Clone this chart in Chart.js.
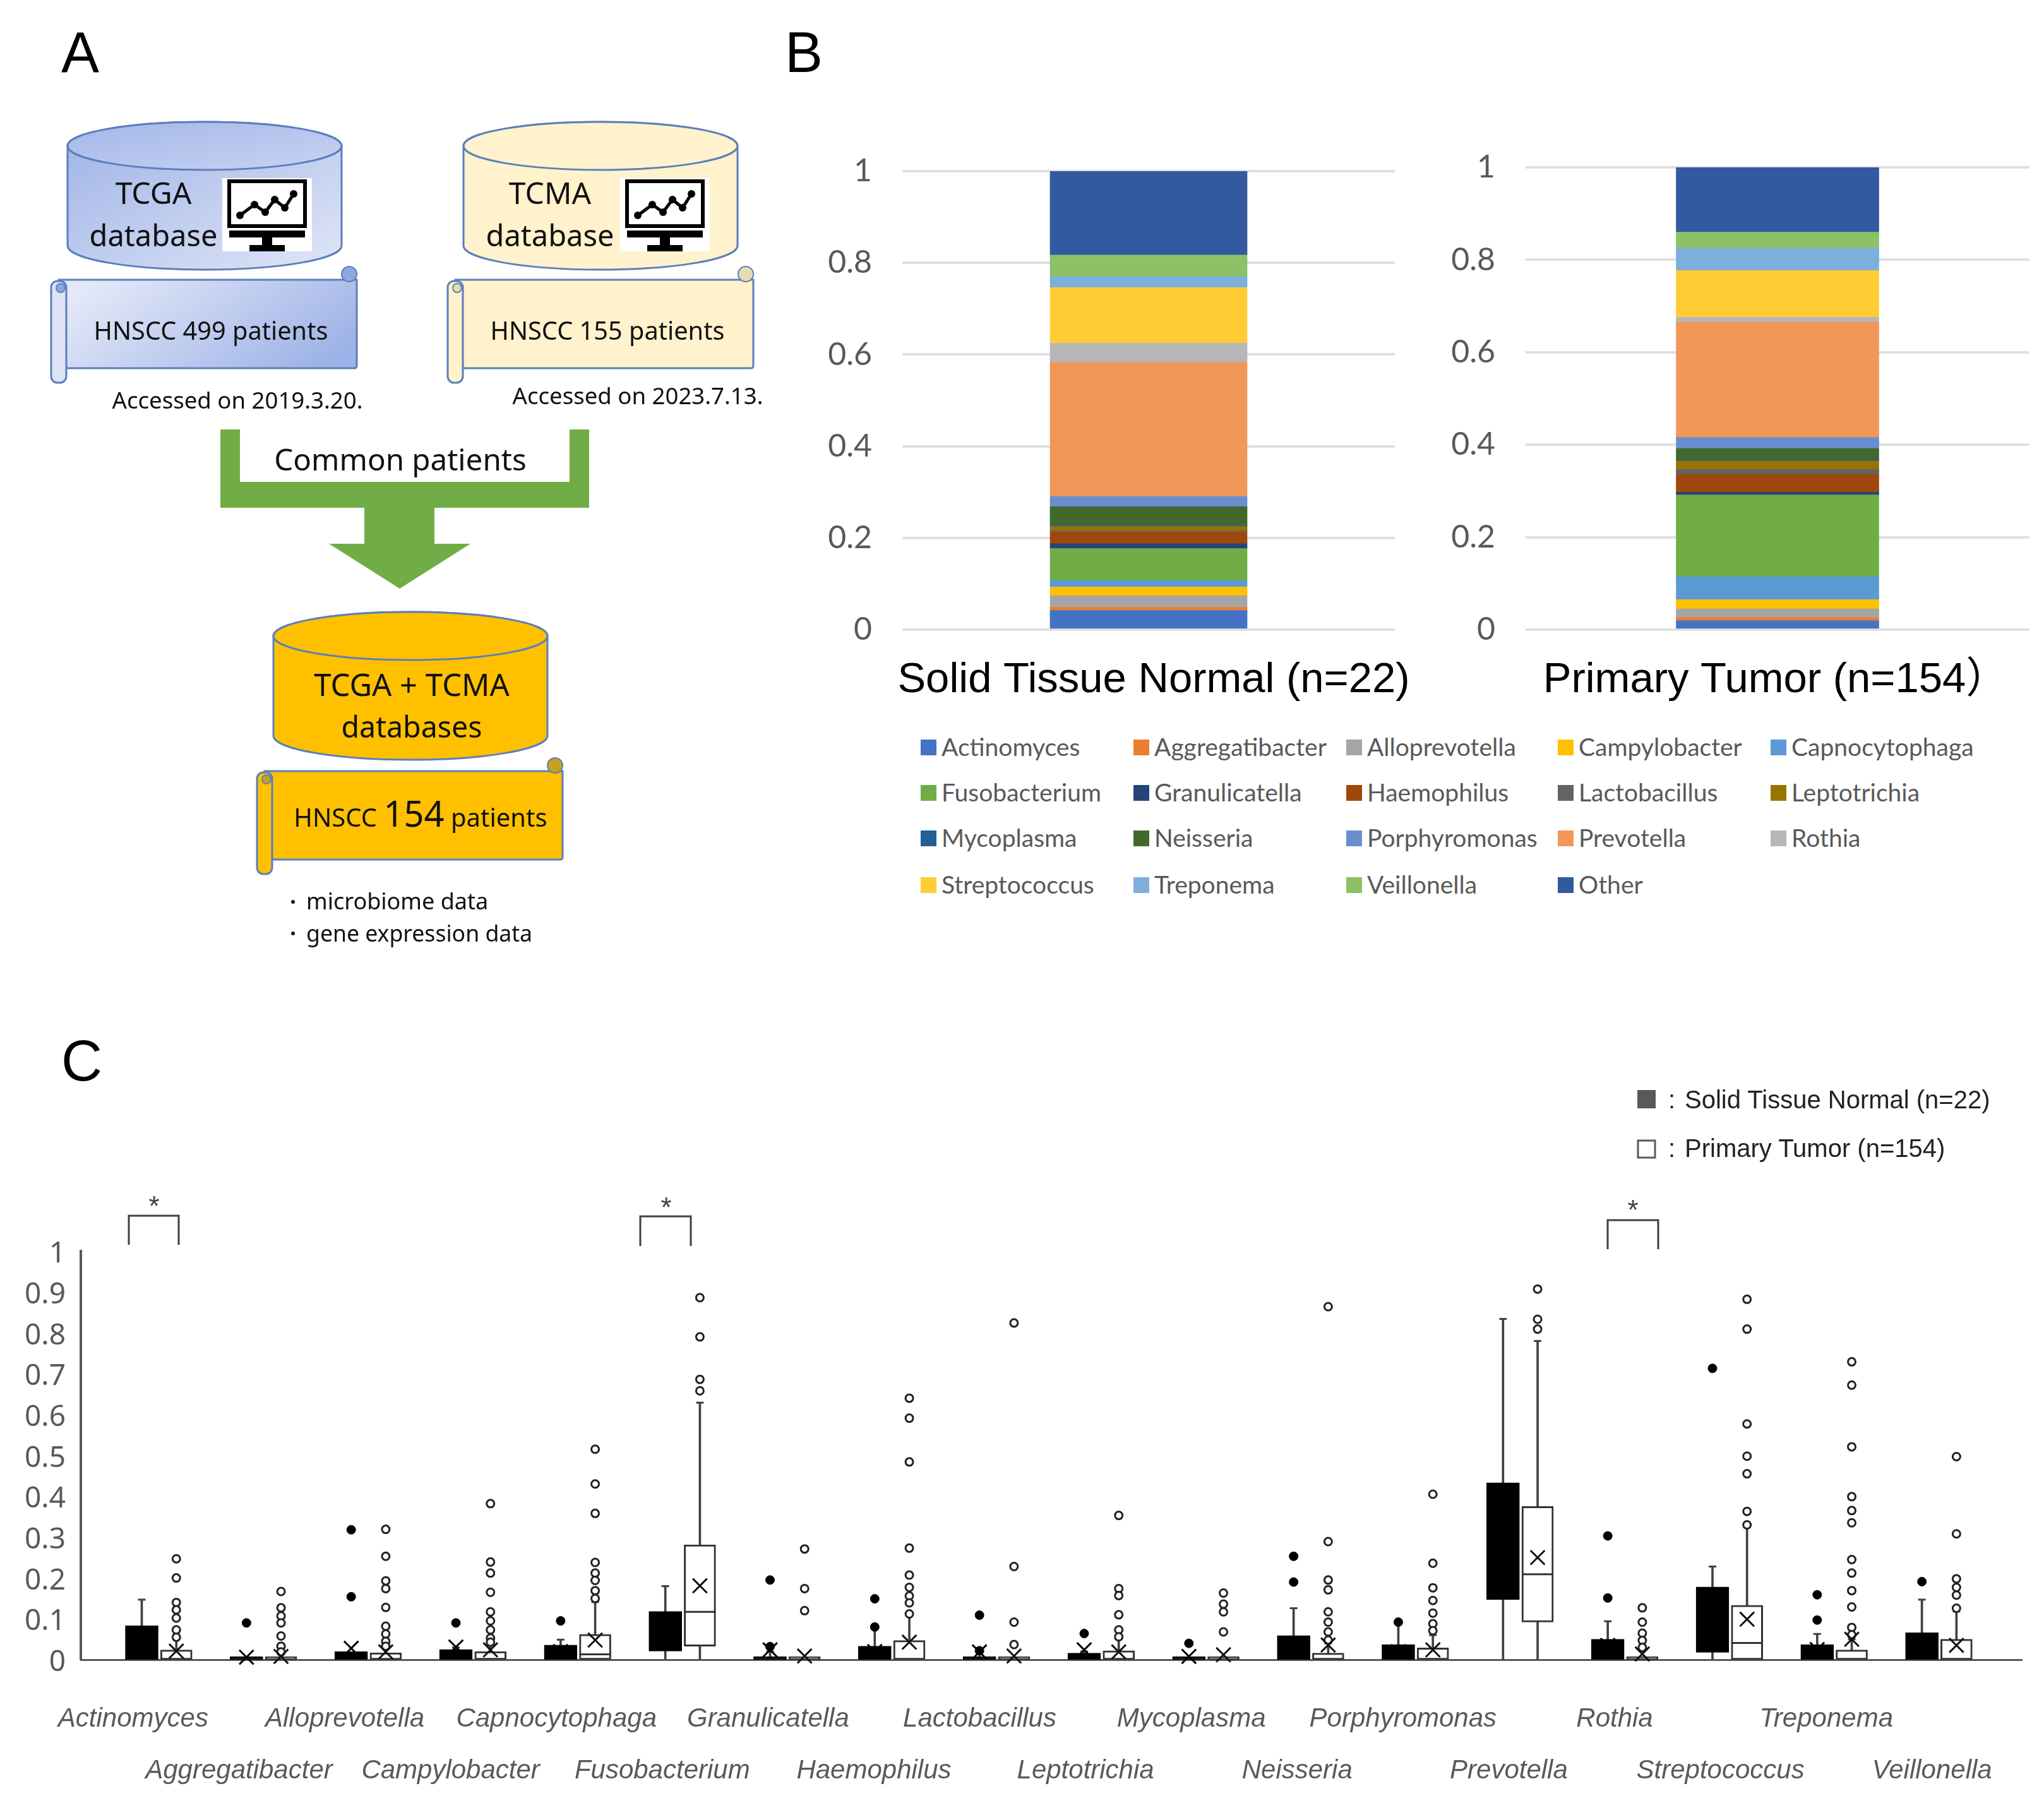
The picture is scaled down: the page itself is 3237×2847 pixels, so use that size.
<!DOCTYPE html>
<html>
<head>
<meta charset="utf-8">
<title>HNSCC microbiome</title>
<script src="https://cdn.jsdelivr.net/npm/chart.js@4"></script>
<style>
    html, body { margin: 0; padding: 0; background: #fff; }
    #page { position: relative; width: 3237px; height: 2847px; overflow: hidden; background: #fff; }
    #page canvas { position: absolute; display: block; }
    #diagram { position: absolute; left: 0; top: 0; }
    #genusLegend { position: absolute; left: 0; top: 0; font: 39px Lato, sans-serif; color: #595959; }
    #genusLegend div { position: absolute; white-space: nowrap; line-height: 44px; }
    #genusLegend span { position: absolute; left: -33px; top: 11px; width: 25px; height: 25px; }
</style>
</head>
<body>
<div id="page">
    <canvas id="normalChart" style="left:1240px;top:200px" width="1000" height="930"></canvas>
    <canvas id="tumorChart" style="left:2240px;top:200px" width="997" height="930"></canvas>
    <canvas id="boxChart" style="left:0;top:1900px" width="3237" height="947"></canvas>
    <div id="genusLegend"></div>
    <svg id="diagram" width="3237" height="2847" xmlns="http://www.w3.org/2000/svg"></svg>
</div>
<script>
// Panel B, mean relative abundance per genus, bottom to top
const stackGenera = ["Actinomyces", "Aggregatibacter", "Alloprevotella", "Campylobacter", "Capnocytophaga",
    "Fusobacterium", "Granulicatella", "Haemophilus", "Lactobacillus", "Leptotrichia",
    "Mycoplasma", "Neisseria", "Porphyromonas", "Prevotella", "Rothia",
    "Streptococcus", "Treponema", "Veillonella", "Other"];
const stackColors = ["#4472C4", "#ED7D31", "#A5A5A5", "#FFC000", "#5B9BD5",
    "#70AD47", "#264478", "#9E480E", "#636363", "#997300",
    "#255E91", "#43682B", "#698ED0", "#F1975A", "#B7B7B7",
    "#FFCD33", "#7CAFDD", "#8CC168", "#325AA0"];
const normalShares = [0.042, 0.007, 0.025, 0.019, 0.014, 0.07, 0.0105, 0.025, 0.003, 0.0095,
    0.003, 0.04, 0.0225, 0.2925, 0.042, 0.121, 0.024, 0.047, 0.183];
const tumorShares = [0.0195, 0.0065, 0.019, 0.02, 0.0496, 0.1768, 0.006, 0.039, 0.0105, 0.018,
    0.003, 0.024, 0.024, 0.2495, 0.0105, 0.101, 0.048, 0.035, 0.14];

// Panel C, box plots per genus
const boxGenera = stackGenera.slice(0, 18);
const normalQ1 = [0, 0, 0, 0, 0, 0.021, 0, 0, 0, 0, 0, 0, 0, 0.147, 0, 0.018, 0, 0];
const normalQ3 = [0.083, 0.002, 0.02, 0.025, 0.036, 0.118, 0.005, 0.033, 0.002, 0.016, 0.001, 0.059, 0.037, 0.433, 0.05, 0.178, 0.037, 0.066];
const normalWhisker = [0.147, null, null, 0.03, 0.049, 0.18, 0.02, 0.078, 0.018, 0.02, null, 0.126, 0.088, 0.834, 0.094, 0.228, 0.063, 0.147];
const normalMean = [0.045, 0.006, 0.028, 0.031, 0.02, 0.07, 0.024, 0.02, 0.019, 0.024, 0.008, 0.04, 0.02, 0.3, 0.035, 0.1, 0.025, 0.035];
const normalOutliers = [[], [0.09], [0.318, 0.154], [0.09], [0.095], [], [0.195, 0.032], [0.149, 0.08], [0.109, 0.022],
    [0.064], [0.04], [0.253, 0.19], [0.092], [], [0.303, 0.151], [0.713], [0.159, 0.097], [0.191]];

const tumorQ1 = [0, 0, 0, 0, 0, 0.033, 0, 0, 0, 0, 0, 0, 0, 0.092, 0, 0, 0, 0];
const tumorQ3 = [0.024, 0.002, 0.017, 0.02, 0.062, 0.281, 0.002, 0.047, 0.002, 0.022, 0.002, 0.016, 0.029, 0.375, 0.002, 0.133, 0.024, 0.05];
const tumorMedian = [null, null, null, null, 0.013, 0.117, null, null, null, null, null, null, null, 0.209, null, 0.041, null, null];
const tumorWhisker = [0.05, null, null, 0.04, 0.141, 0.629, null, 0.112, null, 0.05, null, 0.04, 0.06, 0.78, null, 0.324, 0.05, 0.118];
const tumorMean = [0.021, 0.008, 0.019, 0.024, 0.048, 0.181, 0.009, 0.043, 0.009, 0.019, 0.012, 0.036, 0.024, 0.25, 0.014, 0.099, 0.05, 0.035];
const tumorOutliers = [
    [0.247, 0.2, 0.14, 0.122, 0.102, 0.073, 0.055],
    [0.167, 0.127, 0.107, 0.09, 0.058, 0.033, 0.019],
    [0.319, 0.253, 0.193, 0.174, 0.128, 0.082, 0.063, 0.045, 0.033],
    [0.382, 0.239, 0.212, 0.165, 0.117, 0.095, 0.073, 0.053, 0.043],
    [0.515, 0.43, 0.358, 0.238, 0.212, 0.194, 0.169, 0.15],
    [0.886, 0.79, 0.686, 0.658],
    [0.271, 0.174, 0.12],
    [0.64, 0.591, 0.484, 0.273, 0.207, 0.177, 0.156, 0.139, 0.112],
    [0.824, 0.228, 0.092, 0.037],
    [0.353, 0.174, 0.157, 0.11, 0.073, 0.056],
    [0.163, 0.136, 0.117, 0.068],
    [0.864, 0.289, 0.195, 0.171, 0.117, 0.092, 0.068, 0.048],
    [0.405, 0.236, 0.176, 0.145, 0.114, 0.088, 0.071],
    [0.907, 0.833, 0.809],
    [0.127, 0.092, 0.065, 0.047, 0.03],
    [0.882, 0.809, 0.577, 0.498, 0.455, 0.363, 0.33],
    [0.729, 0.672, 0.521, 0.399, 0.365, 0.335, 0.245, 0.212, 0.169, 0.129, 0.079, 0.061],
    [0.497, 0.308, 0.198, 0.177, 0.158, 0.126]
];

const GREY_TEXT = "#595959";
const BOX_SHIFT = 0.165;

// keep the plot area where the layout padding puts it, long tick labels must not shrink it
function noAutoPadding(scale) {
    scale.paddingLeft = scale.paddingRight = scale.paddingTop = scale.paddingBottom = 0;
}

function buildStackChart(id, title, shares, axisWidth, padding, barWidth, labelShift) {
    new Chart(document.getElementById(id), {
        type: "bar",
        data: {
            labels: [title],
            datasets: stackGenera.map((g, i) => ({
                label: g,
                data: [shares[i]],
                backgroundColor: stackColors[i],
                barThickness: barWidth
            }))
        },
        options: {
            responsive: false,
            animation: false,
            layout: { padding },
            plugins: { legend: { display: false }, tooltip: { enabled: false } },
            scales: {
                x: {
                    stacked: true,
                    grid: { display: false },
                    border: { display: false },
                    afterFit: s => { s.height = 133; noAutoPadding(s); },
                    ticks: {
                        color: "#000",
                        font: { family: "'Liberation Sans', 'Noto Sans CJK JP'", size: 67 },
                        padding: 32,
                        maxRotation: 0,
                        autoSkip: false,
                        labelOffset: labelShift
                    }
                },
                y: {
                    stacked: true,
                    min: 0,
                    max: 1,
                    afterFit: s => { s.width = axisWidth; noAutoPadding(s); },
                    border: { display: false },
                    grid: { color: "#E0E0E0", lineWidth: 4, drawTicks: false },
                    ticks: {
                        stepSize: 0.2,
                        color: GREY_TEXT,
                        font: { family: "Lato", size: 50 },
                        padding: 48,
                        callback: v => +v.toFixed(1)
                    }
                }
            }
        }
    });
}

buildStackChart("normalChart", "Solid Tissue Normal (n=22)", normalShares, 189,
    { top: 71, right: 31 }, 312, 8);
buildStackChart("tumorChart", "Primary Tumor (n=154）", tumorShares, 176,
    { top: 65, right: 23 }, 321, -3);

function pts(values, shift) {
    return values.map((v, i) => ({ x: i + shift, y: v })).filter(p => p.y !== null);
}
function spread(groups, shift) {
    return groups.flatMap((g, i) => g.map(v => ({ x: i + shift, y: v })));
}
function ranges(lo, hi, shift) {
    return hi.map((v, i) => ({ x: i + shift, y: [lo[i], v] }));
}
function whiskers(hi, shift) {
    return hi.map((v, i) => ({ x: i + shift, y: [0, v] })).filter(p => p.y[1] !== null);
}

function boxDatasets(shift, q1, q3, whisk, mean, outliers, solid) {
    return [
        { type: "bar", order: 4, grouped: false, barThickness: 3, backgroundColor: "#404040", data: whiskers(whisk, shift) },
        { type: "scatter", order: 4, clip: false, pointStyle: "line", pointRadius: 6, borderWidth: 3, borderColor: "#404040", data: pts(whisk, shift) },
        { type: "bar", order: 3, grouped: false, barThickness: solid ? 52 : 50, minBarLength: 5, backgroundColor: solid ? "#000" : "#fff", borderColor: solid ? "#000" : "#333", borderWidth: 3, borderSkipped: false, data: ranges(q1, q3, shift) },
        { type: "scatter", order: 1, clip: false, pointStyle: "crossRot", pointRadius: 16, borderWidth: 3, borderColor: solid ? "#000" : "#111", data: pts(mean, shift) },
        { type: "scatter", order: 2, clip: false, pointRadius: solid ? 7 : 6, borderWidth: solid ? 1 : 3, backgroundColor: solid ? "#000" : "#fff", borderColor: solid ? "#000" : "#222", data: spread(outliers, shift) }
    ];
}

new Chart(document.getElementById("boxChart"), {
    type: "bar",
    data: {
        datasets: [
            ...boxDatasets(-BOX_SHIFT, normalQ1, normalQ3, normalWhisker, normalMean, normalOutliers, true),
            ...boxDatasets(BOX_SHIFT, tumorQ1, tumorQ3, tumorWhisker, tumorMean, tumorOutliers, false),
            { type: "scatter", order: 2, clip: false, pointStyle: "line", pointRadius: 25, borderWidth: 3, borderColor: "#333", data: pts(tumorMedian, BOX_SHIFT) }
        ]
    },
    options: {
        responsive: false,
        animation: false,
        layout: { padding: { top: 81, right: 35 } },
        plugins: { legend: { display: false }, tooltip: { enabled: false } },
        scales: {
            x: {
                type: "linear",
                offset: false,
                min: -0.747,
                max: 17.79,
                grid: { display: false, offset: false },
                border: { color: GREY_TEXT, width: 3 },
                afterFit: s => { s.height = 219; noAutoPadding(s); },
                // names sit in two rows and drift a little from their boxes, as in the figure
                afterBuildTicks: s => { s.ticks = boxGenera.map((g, i) => ({ value: i * 1.01055 - 0.2472 })); },
                ticks: {
                    color: GREY_TEXT,
                    font: { family: "'Liberation Sans'", size: 42, style: "italic", lineHeight: 1.95 },
                    padding: 45,
                    maxRotation: 0,
                    autoSkip: false,
                    callback: (v, i) => (i % 2 === 0 ? [boxGenera[i], " "] : [" ", boxGenera[i]])
                }
            },
            y: {
                min: 0,
                max: 1,
                afterFit: s => { s.width = 128; noAutoPadding(s); },
                grid: { display: false },
                border: { color: GREY_TEXT, width: 4 },
                ticks: {
                    stepSize: 0.1,
                    color: GREY_TEXT,
                    font: { family: "'Noto Sans'", size: 46 },
                    padding: 16,
                    labelOffset: 5,
                    callback: v => +v.toFixed(1)
                }
            }
        }
    }
});

// Genus legend of panel B, five columns and four rows
const legendEl = document.getElementById("genusLegend");
const legendColumns = [1491, 1828, 2165, 2500, 2837];
const legendRows = [1160, 1232, 1304, 1378];
stackGenera.forEach((g, i) => {
    const item = document.createElement("div");
    item.style.left = legendColumns[i % 5] + "px";
    item.style.top = legendRows[Math.floor(i / 5)] + "px";
    item.innerHTML = `<span style="background:${stackColors[i]}"></span>${g}`;
    legendEl.appendChild(item);
});

// Panel A flow diagram, panel letters and the annotations of panel C
function cylinder(x, y, body, top) {
    return `<path d="M${x},${y + 38} L${x},${y + 196} A217,38 0 0 0 ${x + 434},${y + 196} L${x + 434},${y + 38} A217,38 0 0 0 ${x},${y + 38} Z" fill="${body}" stroke="#5B7FBD" stroke-width="3"/>
        <ellipse cx="${x + 217}" cy="${y + 38}" rx="217" ry="38" fill="${top}" stroke="#5B7FBD" stroke-width="3"/>`;
}
function scroll(x, y, fill, roll, curl) {
    return `<path d="M${x + 12},${y} H${x + 484} V${y + 136} Q${x + 484},${y + 140} ${x + 480},${y + 140} H${x + 24} Z" fill="${fill}" stroke="#5B7FBD" stroke-width="3"/>
        <rect x="${x}" y="${y + 2}" width="24" height="161" rx="10" fill="${roll}" stroke="#5B7FBD" stroke-width="3"/>
        <circle cx="${x + 15}" cy="${y + 13}" r="7" fill="${curl}" stroke="#5B7FBD" stroke-width="2"/>
        <circle cx="${x + 472}" cy="${y - 9}" r="12" fill="${curl}" stroke="#5B7FBD" stroke-width="2"/>`;
}
function monitor(x, y) {
    const line = [[28, 59], [51, 42], [68, 54], [83, 34], [99, 47], [113, 25]];
    return `<g transform="translate(${x},${y})">
        <rect width="142" height="116" fill="#fff"/>
        <rect x="11" y="5" width="120" height="71" fill="#fff" stroke="#000" stroke-width="6"/>
        <polyline points="${line.map(p => p.join(",")).join(" ")}" fill="none" stroke="#000" stroke-width="5"/>
        ${line.map(p => `<circle cx="${p[0]}" cy="${p[1]}" r="6" fill="#000"/>`).join("")}
        <rect x="11" y="83" width="120" height="11" fill="#000"/>
        <rect x="63" y="94" width="16" height="12" fill="#000"/>
        <rect x="43" y="106" width="56" height="10" fill="#000"/>
    </g>`;
}
function label(x, y, size, text, anchor, color) {
    return `<text x="${x}" y="${y}" font-size="${size}" text-anchor="${anchor || "middle"}" fill="${color || "#111"}">${text}</text>`;
}
function bracket(x0, x1, yTop, yBottom, starX, starY) {
    return `<path d="M${x0},${yBottom} V${yTop} H${x1} V${yBottom}" fill="none" stroke="#404040" stroke-width="3"/>
        <text x="${starX}" y="${starY}" font-size="44" text-anchor="middle" fill="#404040" font-family="'Liberation Sans'">*</text>`;
}

document.getElementById("diagram").innerHTML = `
    <defs>
        <linearGradient id="blueBody" x1="0" y1="0" x2="1" y2="1"><stop offset="0" stop-color="#9DB2E6"/><stop offset="1" stop-color="#E0E6F7"/></linearGradient>
        <linearGradient id="blueTop" x1="0" y1="0" x2="1" y2="1"><stop offset="0" stop-color="#A3B7E8"/><stop offset="1" stop-color="#C8D3F1"/></linearGradient>
        <linearGradient id="blueScroll" x1="0" y1="0.3" x2="1" y2="0.7"><stop offset="0" stop-color="#E4E9F8"/><stop offset="1" stop-color="#9DB2E6"/></linearGradient>
    </defs>
    <g font-family="'Liberation Sans'" fill="#000" font-size="90">
        <text x="97" y="114">A</text>
        <text x="1243" y="114">B</text>
        <text x="97" y="1711">C</text>
    </g>
    <g font-family="'Noto Sans'">
        ${cylinder(107, 193, "url(#blueBody)", "url(#blueTop)")}
        ${monitor(352, 282)}
        ${label(243, 323, 48, "TCGA")}
        ${label(243, 390, 47, "database")}
        ${scroll(81, 443, "url(#blueScroll)", "#DDE3F6", "#8FA6DE")}
        ${label(334, 538, 39.7, "HNSCC 499 patients")}
        ${label(376, 647, 36.6, "Accessed on 2019.3.20.")}

        ${cylinder(734, 193, "#FFF2CC", "#FFF2CC")}
        ${monitor(982, 282)}
        ${label(871, 323, 48, "TCMA")}
        ${label(871, 390, 47, "database")}
        ${scroll(709, 443, "#FFF2CC", "#FFF2CC", "#E8DDB0")}
        ${label(962, 538, 39.7, "HNSCC 155 patients")}
        ${label(1010, 640, 36.6, "Accessed on 2023.7.13.")}

        <path d="M349,680 H380 V763 H902 V680 H933 V804 H688 V861 H745 L633,932 L521,861 H577 V804 H349 Z" fill="#70AD47"/>
        ${label(634, 745, 47.5, "Common patients")}

        ${cylinder(433, 969, "#FFC000", "#FFC000")}
        ${label(652, 1102, 49, "TCGA + TCMA")}
        ${label(652, 1168, 46.5, "databases")}
        ${scroll(407, 1221, "#FFC000", "#FFC000", "#C8A020")}
        <text x="666" y="1309" text-anchor="middle" fill="#111" font-size="40">HNSCC <tspan font-size="56">154</tspan> patients</text>
        ${label(485, 1440, 36, "microbiome data", "start")}
        ${label(485, 1491, 35.6, "gene expression data", "start")}
        <circle cx="464" cy="1428" r="3" fill="#111"/>
        <circle cx="464" cy="1478" r="3" fill="#111"/>
    </g>
    ${bracket(204, 283, 1925, 1971, 244, 1925)}
    ${bracket(1014, 1094, 1926, 1973, 1055, 1927)}
    ${bracket(2546, 2626, 1932, 1978, 2586, 1931)}
    <g font-family="'Liberation Sans'" fill="#222" font-size="40">
        <rect x="2593" y="1726" width="29" height="29" fill="#595959"/>
        <rect x="2594" y="1806" width="27" height="27" fill="#fff" stroke="#595959" stroke-width="3"/>
        <text x="2642" y="1755">:</text>
        <text x="2668" y="1755">Solid Tissue Normal (n=22)</text>
        <text x="2642" y="1832">:</text>
        <text x="2668" y="1832">Primary Tumor (n=154)</text>
    </g>`;
</script>
</body>
</html>
